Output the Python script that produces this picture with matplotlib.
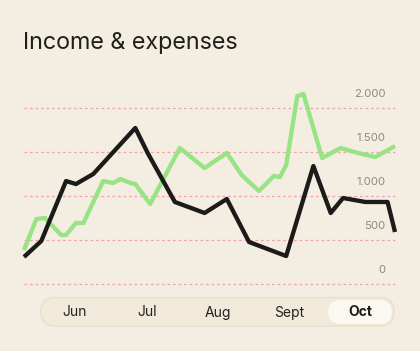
import matplotlib
matplotlib.use("Agg")
import matplotlib.pyplot as plt
from matplotlib.patches import FancyBboxPatch

# data (day offsets from start of Jun, values in currency)
expense_days = [0, 7, 17, 21, 28, 45, 50, 61, 73, 82, 91, 106, 117, 124, 129, 138, 147, 150]
expense_vals = [307, 489, 1170, 1136, 1250, 1773, 1489, 932, 807, 966, 477, 318,
                1341, 807, 977, 932, 932, 591]

income_days = [0, 5, 8.5, 15, 17, 21, 24, 32, 36, 39, 43, 45, 51, 63, 73, 82, 88,
               91, 95, 101, 103.5, 106, 110.5, 113, 120.5, 128, 135, 142, 150]
income_vals = [386, 739, 750, 557, 557, 693, 693, 1170, 1148, 1193, 1148, 1136, 909,
               1545, 1318, 1489, 1239, 1159, 1057, 1227, 1216, 1352, 2136, 2159, 1432,
               1545, 1489, 1443, 1568]

y_ticks = [0, 500, 1000, 1500, 2000]
y_labels = ["0", "500", "1.000", "1.500", "2.000"]
months = ["Jun", "Jul", "Aug", "Sept", "Oct"]
selected = "Oct"

BG = "#f4ede1"
W, H = 420, 351

fig = plt.figure(figsize=(W / 100, H / 100), dpi=100, facecolor=BG)

# overlay in pixel units for title and month selector
deco = fig.add_axes([0, 0, 1, 1])
deco.set_xlim(0, W)
deco.set_ylim(H, 0)
deco.axis("off")
deco.patch.set_alpha(0)

deco.text(23, 49, "Income & expenses", fontsize=16.8, family="Inter",
          color="#1d1f1c", va="baseline", ha="left")

# chart axes: 0 at y=284px, 500 per 44px
ax = fig.add_axes([24 / W, (H - 284) / H, (395 - 24) / W, (284 - 84) / H])
ax.set_facecolor("none")
ax.set_xlim(0, 150)
ax.set_ylim(0, 200 * 500 / 44)
for s in ax.spines.values():
    s.set_visible(False)
ax.set_xticks([])
ax.set_yticks([])

for v, lab in zip(y_ticks, y_labels):
    ax.axhline(v, color="#f2a3b0", lw=0.9, ls=(0, (2.2, 2.2)), clip_on=False, zorder=1)
    ax.annotate(lab, xy=(1, v), xycoords=("axes fraction", "data"),
                xytext=(-6.7, 10), textcoords="offset points",
                ha="right", va="center", fontsize=8.2, family="Inter",
                color="#8d8a83", zorder=1)

ax.plot(income_days, income_vals, color="#98e383", lw=3.1,
        solid_joinstyle="round", solid_capstyle="butt", clip_on=False, zorder=3)
ax.plot(expense_days, expense_vals, color="#1b1b1a", lw=3.1,
        solid_joinstyle="round", solid_capstyle="butt", clip_on=False, zorder=4)

# month selector pill
pill = FancyBboxPatch((41, 297.5), 353, 28.5, boxstyle="round,pad=0,rounding_size=14.2",
                      facecolor="#f1eadb", edgecolor="#ebe1cb", lw=1.2, zorder=2)
deco.add_patch(pill)

centers = [75, 147, 218, 289, 360]
for m, cx in zip(months, centers):
    if m == selected:
        sel = FancyBboxPatch((cx - 32.5, 299.5), 65, 25, boxstyle="round,pad=0,rounding_size=12.5",
                             facecolor="#fbf8f1", edgecolor="#f0e8d8", lw=0.8, zorder=3)
        deco.add_patch(sel)
        deco.text(cx, 312.5, m, ha="center", va="center", fontsize=10, family="Inter",
                  fontweight="bold", color="#1b1b1a", zorder=4)
    else:
        deco.text(cx, 312.5, m, ha="center", va="center", fontsize=10, family="Inter",
                  color="#222220", zorder=4)

fig.savefig("out.png", dpi=100, facecolor=BG)
